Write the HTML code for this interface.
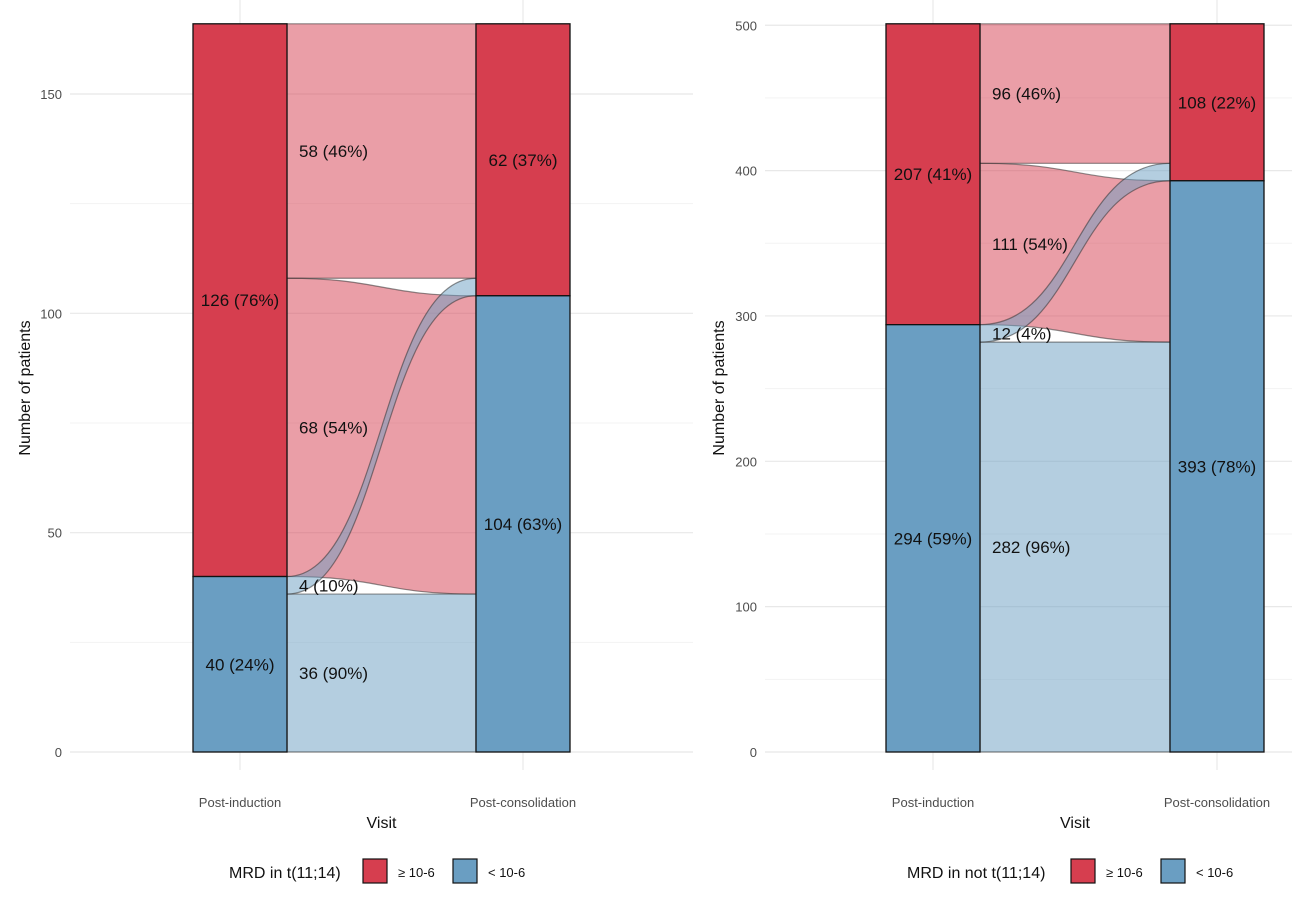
<!DOCTYPE html>
<html><head><meta charset="utf-8"><style>
body{margin:0;background:#fff;font-family:"Liberation Sans",Arial,sans-serif}
svg text{font-family:"Liberation Sans",Arial,sans-serif}
</style></head><body>
<svg id="chart" width="1292" height="904" viewBox="0 0 1292 904" xmlns="http://www.w3.org/2000/svg"></svg>
<script>
// Left panel data: t(11;14)
const leftInduction = [126, 40];      // [>=, <]
const leftConsolidation = [62, 104];
const leftFlows = [58, 68, 4, 36];    // red->red, red->blue, blue->red, blue->blue
const leftTicks = [0, 50, 100, 150];
// Right panel data: not t(11;14)
const rightInduction = [207, 294];
const rightConsolidation = [108, 393];
const rightFlows = [96, 111, 12, 282];
const rightTicks = [0, 100, 200, 300, 400, 500];
const visitLabels = ["Post-induction", "Post-consolidation"];
const legendLabels = ["\u2265 10-6", "< 10-6"];

const NS = "http://www.w3.org/2000/svg";
const svg = document.getElementById("chart");
const RED = "#d63e4f", BLUE = "#6a9ec2";
function el(tag, attrs, parent, text) {
  const e = document.createElementNS(NS, tag);
  for (const k in attrs) e.setAttribute(k, attrs[k]);
  if (text !== undefined) e.textContent = text;
  (parent || svg).appendChild(e);
  return e;
}
function panel(opt) {
  const g = el("g", {});
  
  
  const total = opt.ind[0] + opt.ind[1];
  const y = v => opt.y0 - (v / opt.maxV) * (opt.y0 - opt.yTop);
  const ticks = opt.ticks;
  const step = ticks[1] - ticks[0];
  // minor grid
  for (let i = 0; i < ticks.length; i++) {
    const mv = ticks[i] + step / 2;
    if (mv > opt.maxV * 1.02) continue;
    const ml = el("line", {x1: opt.px0, x2: opt.px1, y1: y(mv), y2: y(mv), stroke: "#f3f3f3", "stroke-width": 1}, g);
    
    
  }
  ticks.forEach(t => {
    const l = el("line", {x1: opt.px0, x2: opt.px1, y1: y(t), y2: y(t), stroke: "#e8e8e8", "stroke-width": 1.2}, g);
    
    
    const tx = el("text", {x: opt.px0 - 8, y: y(t) + 5, "text-anchor": "end", "font-size": 13, fill: "#4d4d4d"}, g, String(t));
    
    
  });
  opt.xc.forEach((xc, i) => {
    const l = el("line", {x1: xc, x2: xc, y1: 0, y2: 770, stroke: "#e8e8e8", "stroke-width": 1.2}, g);
    
    
    const t = el("text", {x: xc, y: 807, "text-anchor": "middle", "font-size": 13, fill: "#4d4d4d"}, g, visitLabels[i]);
    
    
  });
  const bw = 47;
  const xA = opt.xc[0] + bw, xB = opt.xc[1] - bw, mid = (xA + xB) / 2;
  const f = opt.flows; // rr, rb, br, bb
  const ib = opt.ind[1], cb = opt.cons[1];
  // segments: [srcLo, srcHi, dstLo, dstHi, colour, pct label]
  const segs = [
    [ib + f[1], total, cb + f[2], total, RED, f[0], f[0] / opt.ind[0], "flow-red-to-red"],
    [ib, ib + f[1], f[3], f[3] + f[1], RED, f[1], f[1] / opt.ind[0], "flow-red-to-blue"],
    [0, f[3], 0, f[3], BLUE, f[3], f[3] / opt.ind[1], "flow-blue-to-blue"],
    [f[3], ib, cb, cb + f[2], BLUE, f[2], f[2] / opt.ind[1], "flow-blue-to-red"]
  ];
  segs.forEach(s => {
    const [a0, a1, b0, b1, c] = s;
    const d = `M${xA},${y(a1)} C${mid},${y(a1)} ${mid},${y(b1)} ${xB},${y(b1)} L${xB},${y(b0)} C${mid},${y(b0)} ${mid},${y(a0)} ${xA},${y(a0)} Z`;
    const p = el("path", {d, fill: c, "fill-opacity": 0.5, stroke: "#333", "stroke-opacity": 0.55, "stroke-width": 1.2}, g);
    
    
  });
  segs.forEach(s => {
    const t = el("text", {x: xA + 12, y: y((s[0] + s[1]) / 2) + 6, "font-size": 17, fill: "#111"}, g, `${s[5]} (${Math.round(s[6] * 100)}%)`);
    
    
  });
  [opt.ind, opt.cons].forEach((vals, i) => {
    const xc = opt.xc[i];
    const stacks = [[vals[1], vals[0] + vals[1], RED, vals[0]], [0, vals[1], BLUE, vals[1]]];
    stacks.forEach((st, j) => {
      const r = el("rect", {x: xc - bw, y: y(st[1]), width: bw * 2, height: y(st[0]) - y(st[1]), fill: st[2], stroke: "#111", "stroke-width": 1.3}, g);
      
      
      const t = el("text", {x: xc, y: y((st[0] + st[1]) / 2) + 6, "text-anchor": "middle", "font-size": 17, fill: "#111"}, g, `${st[3]} (${Math.round(st[3] / total * 100)}%)`);
      
      
    });
  });
  const yt = el("text", {x: opt.ytx, y: 388, "text-anchor": "middle", "font-size": 16, fill: "#111", transform: `rotate(-90 ${opt.ytx} 388)`}, g, "Number of patients");
  
  
  const xt = el("text", {x: (opt.xc[0] + opt.xc[1]) / 2, y: 828, "text-anchor": "middle", "font-size": 16, fill: "#111"}, g, "Visit");
  
  
  // legend
  const lg = el("g", {}, g);
  
  
  const lt = el("text", {x: opt.legX, y: 878, "font-size": 16, fill: "#111"}, lg, opt.legTitle);
  
  
  let lx = opt.legKey;
  [RED, BLUE].forEach((c, i) => {
    const r = el("rect", {x: lx, y: 859, width: 24, height: 24, fill: c, stroke: "#111", "stroke-width": 1.2}, lg);
    
    
    const t = el("text", {x: lx + 35, y: 877, "font-size": 13, fill: "#111"}, lg, legendLabels[i]);
    
    
    lx += 90;
  });
}
panel({name: "panel-t1114", ind: leftInduction, cons: leftConsolidation, flows: leftFlows, ticks: leftTicks,
  maxV: 166, y0: 752, yTop: 23.8, px0: 70, px1: 693, xc: [240, 523], ytx: 30,
  legTitle: "MRD in t(11;14)", legX: 229, legKey: 363});
panel({name: "panel-not-t1114", ind: rightInduction, cons: rightConsolidation, flows: rightFlows, ticks: rightTicks,
  maxV: 501, y0: 752, yTop: 23.8, px0: 765, px1: 1292, xc: [933, 1217], ytx: 724,
  legTitle: "MRD in not t(11;14)", legX: 907, legKey: 1071});
</script>
</body></html>
